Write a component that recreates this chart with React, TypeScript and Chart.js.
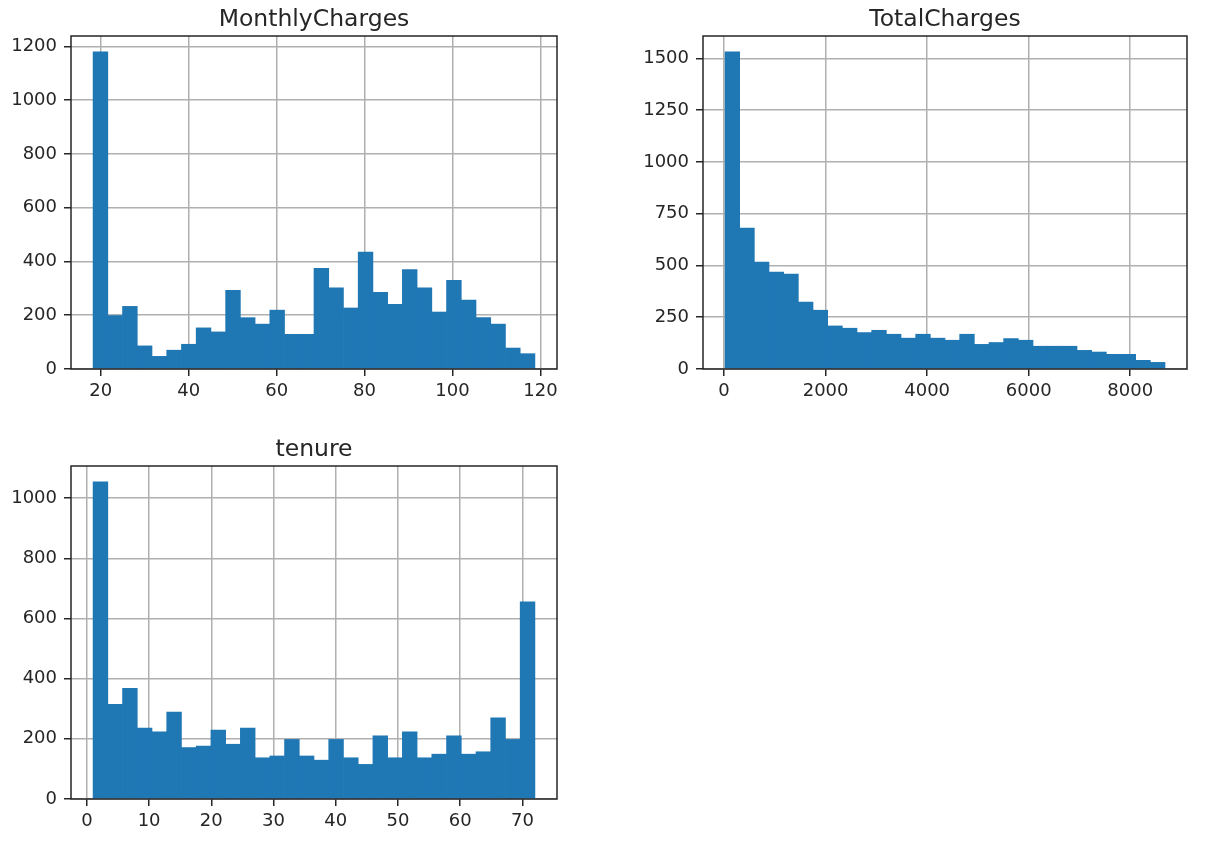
import React, { useEffect, useRef } from "react";
import { Chart, registerables } from "chart.js";

Chart.register(...registerables);

// ---- Data (30 bins each) ----
const MONTHLY_COUNTS = [1180, 199, 233, 86, 47, 70, 92, 153, 138, 293, 191, 167, 219, 129, 129, 375, 302, 227, 435, 285, 241, 370, 302, 212, 330, 256, 191, 167, 78, 57];
const MONTHLY_RANGE = [18.25, 118.75];
const MONTHLY_X_TICKS = [20, 40, 60, 80, 100, 120];
const MONTHLY_Y_TICKS = [0, 200, 400, 600, 800, 1000, 1200];

const TOTAL_COUNTS = [1532, 681, 516, 468, 458, 323, 284, 208, 197, 176, 187, 168, 149, 168, 149, 139, 168, 119, 128, 147, 139, 110, 110, 110, 90, 82, 71, 71, 42, 32];
const TOTAL_RANGE = [18.8, 8684.8];
const TOTAL_X_TICKS = [0, 2000, 4000, 6000, 8000];
const TOTAL_Y_TICKS = [0, 250, 500, 750, 1000, 1250, 1500];

const TENURE_COUNTS = [1054, 315, 368, 236, 223, 289, 171, 176, 229, 182, 236, 137, 143, 198, 143, 129, 198, 137, 115, 210, 137, 223, 137, 149, 210, 149, 157, 270, 198, 655];
const TENURE_RANGE = [1, 72];
const TENURE_X_TICKS = [0, 10, 20, 30, 40, 50, 60, 70];
const TENURE_Y_TICKS = [0, 200, 400, 600, 800, 1000];

const FONT = "'DejaVu Sans', sans-serif";
const TEXT = "#262626";
const BAR = "#1f77b4";

const framePlugin = {
  id: "frame",
  afterDraw(chart: any, _args: any, opts: any) {
    const { ctx, chartArea: a } = chart;
    ctx.save();
    ctx.strokeStyle = TEXT;
    ctx.lineWidth = 1.5;
    ctx.strokeRect(a.left, a.top, a.right - a.left, a.bottom - a.top);
    ctx.fillStyle = TEXT;
    ctx.font = `23.5px ${FONT}`;
    ctx.textAlign = "center";
    ctx.textBaseline = "alphabetic";
    ctx.fillText(opts.text, (a.left + a.right) / 2, a.top - 10);
    ctx.restore();
  },
};

type HistProps = {
  title: string;
  counts: number[];
  range: number[];
  xTicks: number[];
  yTicks: number[];
  left: number;
  top: number;
  padRight: number;
};

const W = 572;
const H = 420;

function Hist({ title, counts, range, xTicks, yTicks, left, top, padRight }: HistProps) {
  const ref = useRef<HTMLCanvasElement | null>(null);
  useEffect(() => {
    if (!ref.current) return;
    const [lo, hi] = range;
    const n = counts.length;
    const w = (hi - lo) / n;
    const points = counts.map((c, i) => ({ x: lo + w * (i + 0.5), y: c }));
    const span = hi - lo;
    const maxC = Math.max(...counts);
    const tickFont = { family: FONT, size: 18 };
    const chart = new Chart(ref.current, {
      type: "bar",
      data: {
        datasets: [
          {
            data: points as any,
            backgroundColor: BAR,
            borderWidth: 0,
            barPercentage: 1,
            categoryPercentage: 1,
          },
        ],
      },
      options: {
        animation: false,
        responsive: false,
        maintainAspectRatio: false,
        layout: { padding: { top: 36, right: padRight, left: 0, bottom: 0 } },
        plugins: {
          legend: { display: false },
          tooltip: { enabled: false },
          title: { display: false },
          frame: { text: title },
        } as any,
        scales: {
          x: {
            type: "linear",
            offset: false,
            min: lo - 0.05 * span,
            max: hi + 0.05 * span,
            z: 1,
            grid: {
              offset: false,
              color: "#b0b0b0",
              lineWidth: 1.5,
              tickColor: TEXT,
              tickWidth: 1.5,
              tickLength: 7,
            },
            border: { display: false },
            ticks: {
              autoSkip: false,
              maxRotation: 0,
              padding: 5,
              color: TEXT,
              font: tickFont,
              callback: (v: any) => String(v),
            },
            afterBuildTicks: (s: any) => {
              s.ticks = xTicks.map((v) => ({ value: v }));
            },
            afterFit: (s: any) => {
              s.height = 51;
            },
          } as any,
          y: {
            type: "linear",
            min: 0,
            max: maxC * 1.05,
            z: 1,
            grid: {
              color: "#b0b0b0",
              lineWidth: 1.5,
              tickColor: TEXT,
              tickWidth: 1.5,
              tickLength: 7,
            },
            border: { display: false },
            ticks: {
              autoSkip: false,
              padding: 7,
              color: TEXT,
              font: tickFont,
              callback: (v: any) => String(v),
            },
            afterBuildTicks: (s: any) => {
              s.ticks = yTicks.map((v) => ({ value: v }));
            },
            afterFit: (s: any) => {
              s.width = 71;
            },
          } as any,
        },
      },
      plugins: [framePlugin as any],
    });
    return () => chart.destroy();
  }, []);
  return (
    <canvas
      ref={ref}
      width={W}
      height={H}
      style={{ position: "absolute", left, top, width: W, height: H }}
    />
  );
}

export default function App() {
  return (
    <div
      style={{
        position: "absolute",
        left: 0,
        top: 0,
        width: 1210,
        height: 856,
        background: "#ffffff",
        overflow: "hidden",
      }}
    >
      <Hist title="MonthlyCharges" counts={MONTHLY_COUNTS} range={MONTHLY_RANGE} xTicks={MONTHLY_X_TICKS} yTicks={MONTHLY_Y_TICKS} left={0} top={0} padRight={15} />
      <Hist title="TotalCharges" counts={TOTAL_COUNTS} range={TOTAL_RANGE} xTicks={TOTAL_X_TICKS} yTicks={TOTAL_Y_TICKS} left={632} top={0} padRight={17} />
      <Hist title="tenure" counts={TENURE_COUNTS} range={TENURE_RANGE} xTicks={TENURE_X_TICKS} yTicks={TENURE_Y_TICKS} left={0} top={430} padRight={15} />
    </div>
  );
}
